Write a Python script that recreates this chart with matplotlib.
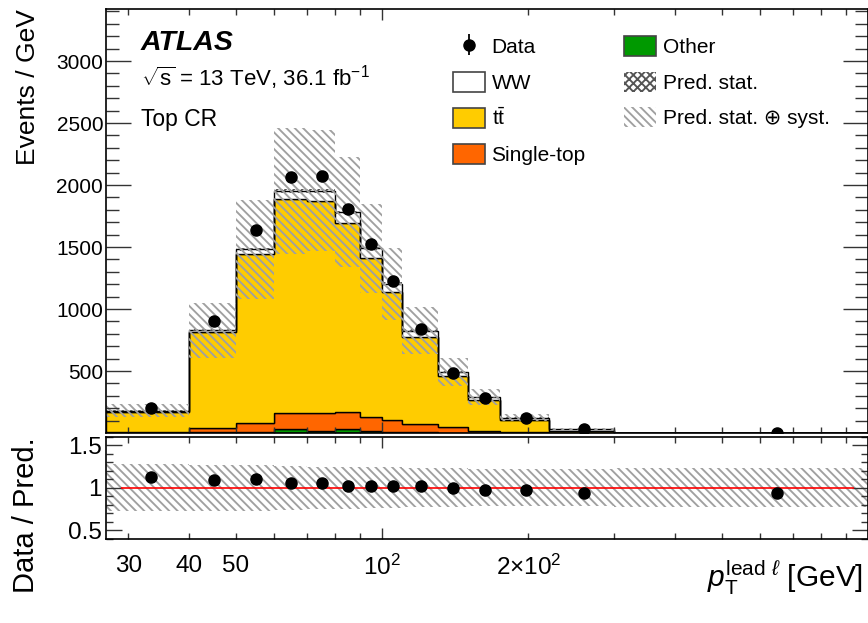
import matplotlib
matplotlib.use("Agg")
import matplotlib.pyplot as plt
import numpy as np
from matplotlib.patches import Patch
from matplotlib.ticker import FixedLocator, FixedFormatter, MultipleLocator, NullFormatter

plt.rcParams["font.family"] = ["Liberation Sans", "DejaVu Sans"]
plt.rcParams["mathtext.fontset"] = "custom"
plt.rcParams["mathtext.rm"] = "Liberation Sans"
plt.rcParams["mathtext.it"] = "Liberation Sans:italic"
plt.rcParams["mathtext.bf"] = "Liberation Sans:bold"
plt.rcParams["hatch.linewidth"] = 1.35

# leading-lepton pT binning [GeV]
bin_edges = [27, 40, 50, 60, 70, 80, 90, 100, 110, 130, 150, 175, 220, 300, 1000]

# stacked predictions, events / GeV (bottom to top)
other = [2, 5, 8, 35, 14, 35, 19, 8, 6, 4, 3, 2, 1, 0.05]
single_top = [5, 38, 75, 129, 145, 137, 113, 99, 66, 42, 16, 7, 2, 0.15]
ttbar = [165, 772, 1358, 1721, 1712, 1519, 1277, 1028, 705, 416, 247, 98, 16, 0.8]
ww = [9, 13, 40, 67, 81, 89, 80, 67, 48, 27, 22, 17, 11, 0.5]

# observed, events / GeV
data = [204, 903, 1637, 2065, 2070, 1809, 1527, 1228, 839, 485, 280, 121, 28.3, 1.4]

# relative uncertainties on the total prediction
rel_stat = [0.02, 0.01, 0.008, 0.007, 0.007, 0.008, 0.009, 0.01, 0.012, 0.015, 0.02, 0.03, 0.06, 0.15]
rel_syst = [0.28, 0.27, 0.27, 0.26, 0.25, 0.25, 0.24, 0.24, 0.23, 0.23, 0.22, 0.22, 0.22, 0.23]

x_labels = {30: "30", 40: "40", 50: "50", 200: r"2$\times$10$^{2}$"}

SYST_HATCH = "\\\\\\\\"

edges = np.array(bin_edges, dtype=float)
widths = np.diff(edges)
centers = 0.5 * (edges[:-1] + edges[1:])
obs = np.array(data)
obs_err = np.sqrt(obs * widths) / widths

fig = plt.figure(figsize=(8.68, 6.23), dpi=100)
ax = fig.add_axes([0.1221, 0.305, 0.8779, 0.6806])
rax = fig.add_axes([0.1221, 0.1356, 0.8779, 0.163])

layers = [
    (other, "#009900"),
    (single_top, "#ff6600"),
    (ttbar, "#ffcc00"),
    (ww, "white"),
]
base = np.zeros(len(widths))
for vals, col in layers:
    top = base + np.array(vals)
    ax.stairs(top, edges, baseline=base, fill=True, facecolor=col,
              edgecolor="black", linewidth=1.0)
    base = top
total = base

stat = total * np.array(rel_stat)
syst = total * np.array(rel_syst)
ax.stairs(total + stat, edges, baseline=total - stat, fill=True, facecolor="none",
          edgecolor="#555555", linewidth=0, hatch="xxxx")
ax.stairs(total + syst, edges, baseline=total - syst, fill=True, facecolor="none",
          edgecolor="#a0a0a0", linewidth=0, hatch=SYST_HATCH)

data_handle = ax.errorbar(centers, obs, yerr=obs_err, fmt="o", color="black",
                          markersize=8, elinewidth=1.3, capsize=0)

# ratio panel
rax.stairs(1 + np.array(rel_syst), edges, baseline=1 - np.array(rel_syst), fill=True,
           facecolor="none", edgecolor="#a0a0a0", linewidth=0, hatch=SYST_HATCH)
rax.hlines(1.0, 29, 935, color="red", linewidth=1.2)
rax.errorbar(centers, obs / total, yerr=obs_err / total, fmt="o", color="black",
             markersize=8, elinewidth=1.3, capsize=0)

for a in (ax, rax):
    a.set_xscale("log")
    a.set_xlim(27, 1000)
    a.xaxis.set_major_locator(FixedLocator([100, 1000]))
    a.xaxis.set_minor_locator(FixedLocator([30, 40, 50, 60, 70, 80, 90,
                                            200, 300, 400, 500, 600, 700, 800, 900]))
    for s in a.spines.values():
        s.set_linewidth(1.2)
    a.tick_params(which="both", direction="in", top=True, right=True, width=1.0,
                  color="#333333")

ax.set_ylim(0.1, 3420)
ax.yaxis.set_major_locator(FixedLocator([500, 1000, 1500, 2000, 2500, 3000]))
ax.yaxis.set_minor_locator(MultipleLocator(100))
ax.xaxis.set_major_formatter(NullFormatter())
ax.xaxis.set_minor_formatter(NullFormatter())
ax.tick_params(axis="y", which="major", length=18, labelsize=15, pad=2)
ax.tick_params(axis="y", which="minor", length=9.4)
ax.tick_params(axis="x", which="major", length=8)
ax.tick_params(axis="x", which="minor", length=4.5)
ax.set_ylabel("Events / GeV", fontsize=19, loc="top")
ax.yaxis.set_label_coords(-0.087, 1.0)

rax.set_ylim(0.4, 1.6)
rax.yaxis.set_major_locator(FixedLocator([0.5, 1.0, 1.5]))
rax.yaxis.set_major_formatter(FixedFormatter(["0.5", "1", "1.5"]))
rax.yaxis.set_minor_locator(MultipleLocator(0.1))
rax.tick_params(axis="y", which="major", length=11.5, labelsize=17.5, pad=3)
rax.tick_params(axis="y", which="minor", length=5)
rax.tick_params(axis="x", which="major", length=8, labelsize=17.5, pad=12)
rax.tick_params(axis="x", which="minor", length=4, labelsize=17.5, pad=12)
rax.xaxis.set_major_formatter(FixedFormatter([r"10$^{2}$", ""]))
minor_ticks = [30, 40, 50, 60, 70, 80, 90, 200, 300, 400, 500, 600, 700, 800, 900]
rax.xaxis.set_minor_formatter(FixedFormatter([x_labels.get(t, "") for t in minor_ticks]))
rax.set_ylabel("Data / Pred.", fontsize=21, loc="top")
rax.yaxis.set_label_coords(-0.087, 1.0)
rax.set_xlabel(r"$p_{\mathrm{T}}^{\mathrm{lead}\ \ell}$ [GeV]", fontsize=21.5, loc="right")
rax.xaxis.set_label_coords(0.993, -0.20)

# labels
fig.text(141 / 868, 1 - 50 / 623, "ATLAS", fontsize=20.5, fontweight="bold",
         fontstyle="italic", ha="left", va="baseline")
fig.text(141 / 868, 1 - 86 / 623, r"$\sqrt{\mathrm{s}}$ = 13 TeV, 36.1 fb$^{-1}$",
         fontsize=16, ha="left", va="baseline")
fig.text(141 / 868, 1 - 126 / 623, "Top CR", fontsize=16.5, ha="left", va="baseline")

box_edge = "#444444"
col1 = [
    (data_handle, "Data"),
    (Patch(facecolor="white", edgecolor=box_edge, linewidth=1.2), "WW"),
    (Patch(facecolor="#ffcc00", edgecolor=box_edge, linewidth=1.2), r"$\mathrm{t}\bar{\mathrm{t}}$"),
    (Patch(facecolor="#ff6600", edgecolor=box_edge, linewidth=1.2), "Single-top"),
]
col2 = [
    (Patch(facecolor="#009900", edgecolor=box_edge, linewidth=1.2), "Other"),
    (Patch(facecolor="white", edgecolor="#555555", linewidth=0, hatch="xxxx"), "Pred. stat."),
    (Patch(facecolor="white", edgecolor="#a0a0a0", linewidth=0, hatch=SYST_HATCH),
     "Pred. stat. \u2295 syst."),
]
leg_opts = dict(loc="upper left", frameon=False, fontsize=15, borderpad=0, borderaxespad=0,
                handlelength=1.55, handleheight=1.1, handletextpad=0.3, labelspacing=0.7,
                bbox_transform=fig.transFigure)
leg1 = ax.legend([h for h, _ in col1], [l for _, l in col1],
                 bbox_to_anchor=(453 / 868, 1 - 36 / 623), **leg_opts)
ax.add_artist(leg1)
ax.legend([h for h, _ in col2], [l for _, l in col2],
          bbox_to_anchor=(624 / 868, 1 - 36 / 623), **leg_opts)

fig.savefig("out.png", dpi=100)
